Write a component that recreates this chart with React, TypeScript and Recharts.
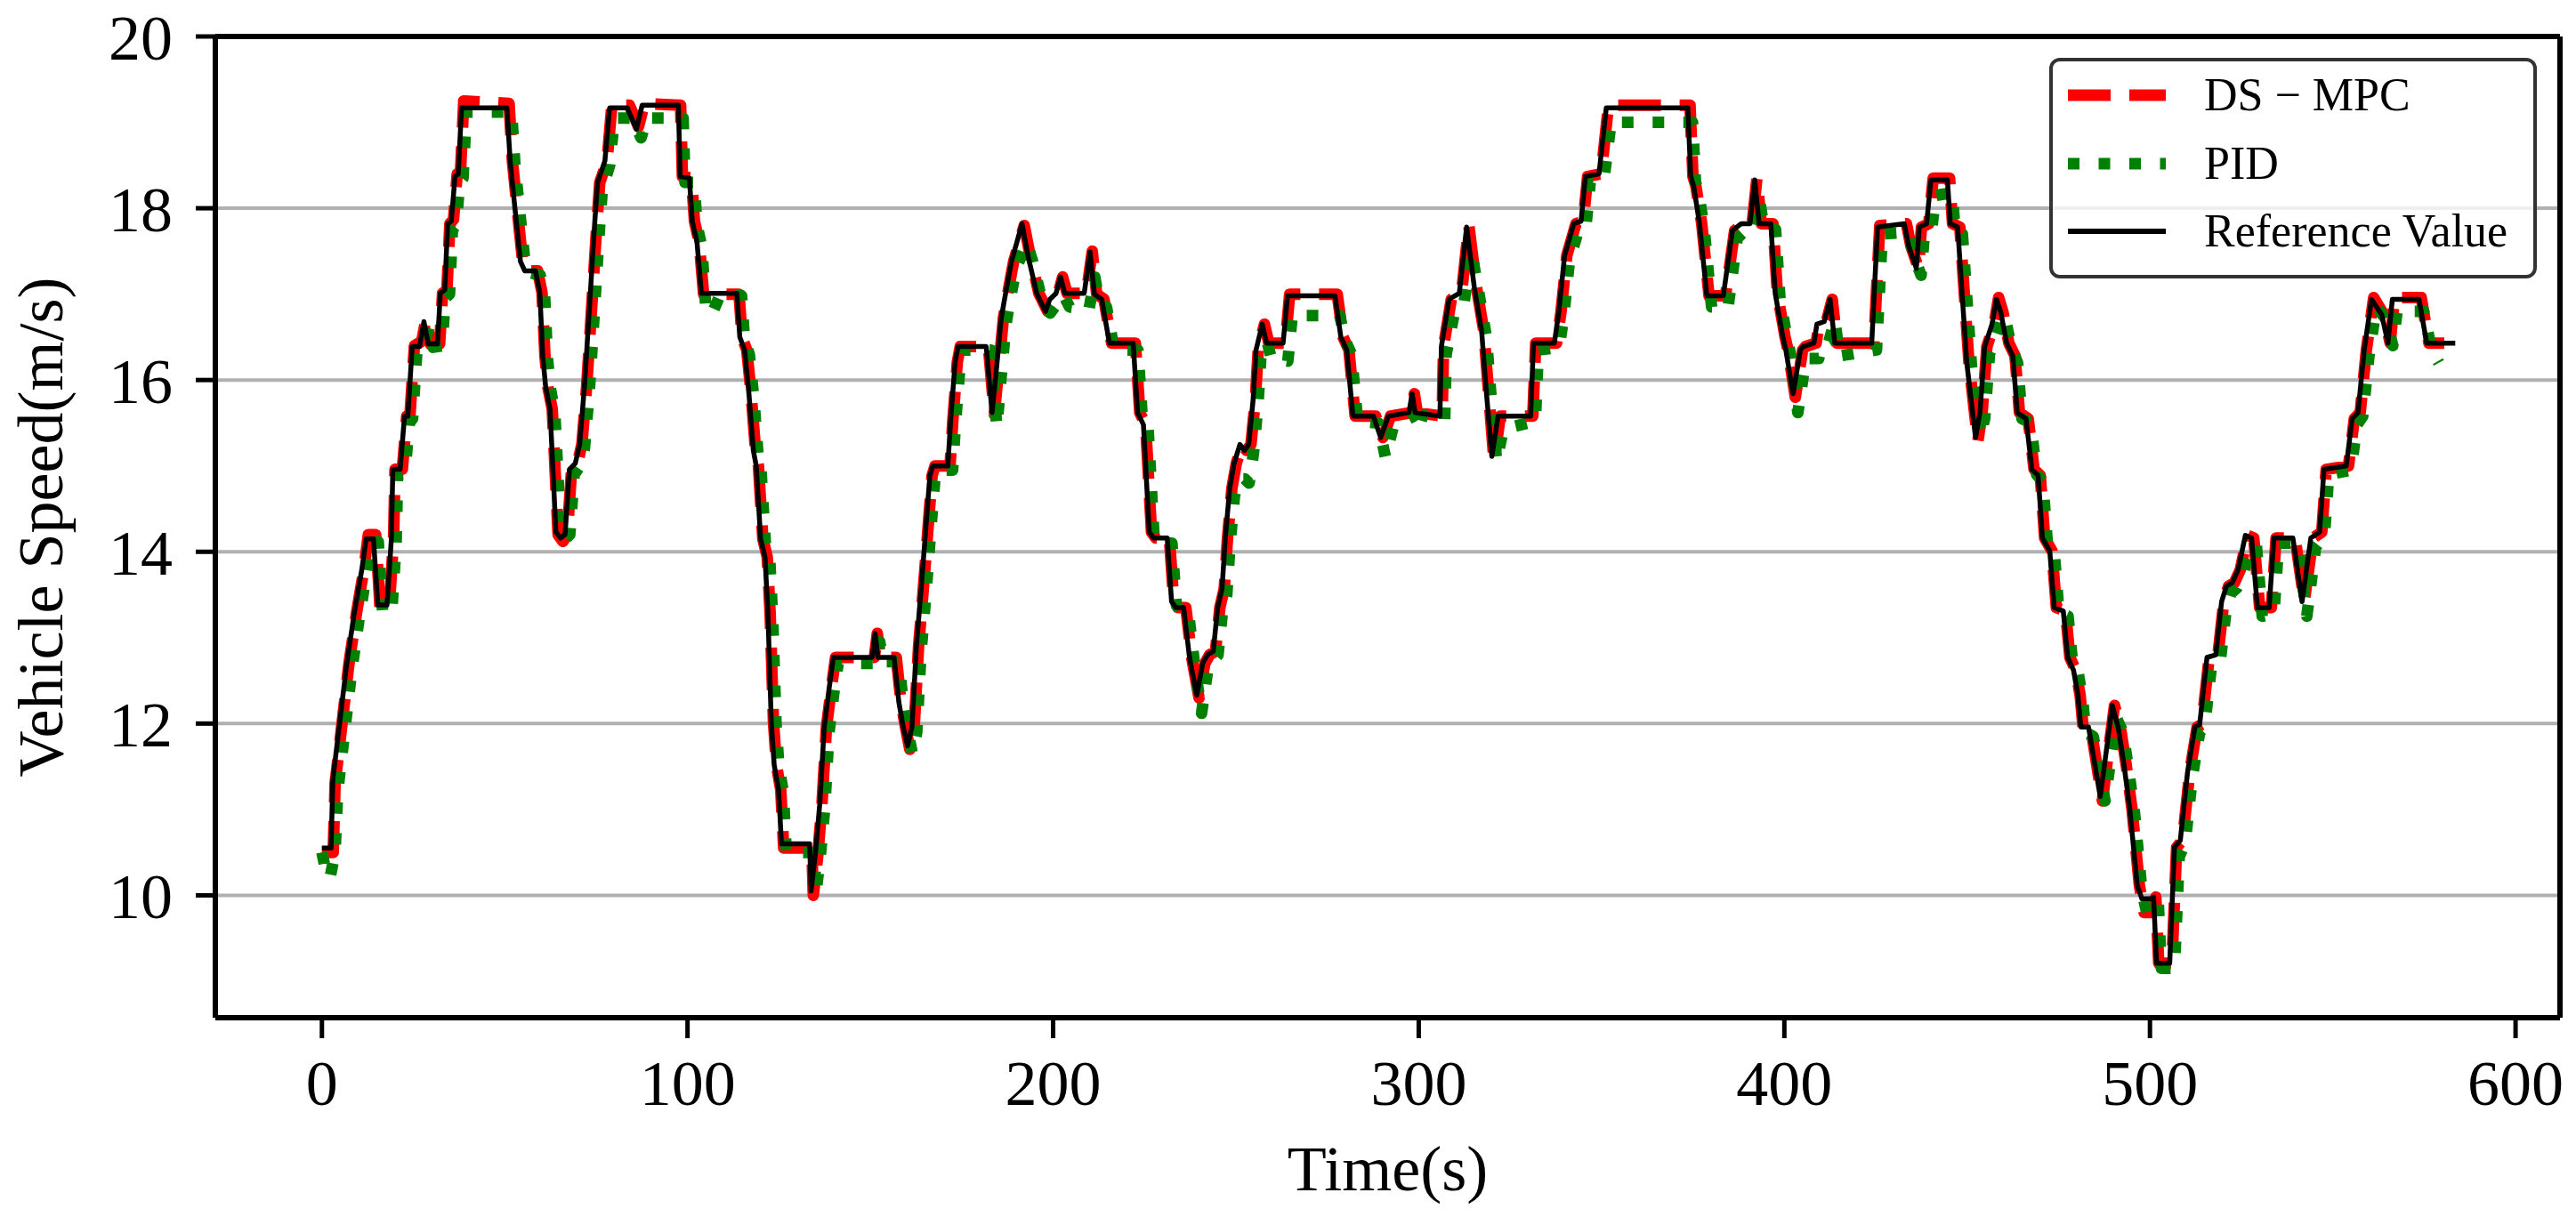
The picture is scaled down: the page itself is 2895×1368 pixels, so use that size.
import { LineChart, Line, XAxis, YAxis, CartesianGrid, Legend, ReferenceLine } from "recharts";

// Axis ticks
const X_TICKS = [0, 100, 200, 300, 400, 500, 600];
const Y_TICKS = [10, 12, 14, 16, 18, 20];

// Series as [time (s), speed (m/s)]
const REFERENCE: [number, number][] = [
  [0, 10.55], [2.5, 10.55], [3, 11.35], [6.8, 12.7], [8.8, 13.27], [10.9, 13.79], [12.1, 14.15], [14.1, 14.15],
  [15.3, 13.38], [17.8, 13.38], [19, 14.15], [19.4, 14.96], [21.4, 14.96], [22.6, 15.58], [23.5, 15.58], [24.7, 16.39],
  [26.7, 16.39], [27.9, 16.68], [29.1, 16.42], [31.6, 16.42], [32.4, 17.01], [33.6, 17.05], [34.4, 17.82], [35.4, 17.85],
  [36.4, 18.37], [37.3, 18.4], [38.2, 19.17], [50.6, 19.17], [51.5, 18.55], [52.7, 18.04], [54.3, 17.38], [55.5, 17.27],
  [58.4, 17.27], [59.6, 17.02], [60.4, 16.28], [61.2, 15.92], [62.4, 15.66], [64, 14.23], [65.3, 14.16], [66.5, 14.2],
  [67.7, 14.96], [69.3, 15.03], [70.5, 15.25], [71.8, 15.92], [73, 16.72], [74.6, 17.82], [75.4, 18.3], [77.4, 18.55],
  [78.7, 19.17], [83.5, 19.17], [86, 18.92], [87.6, 19.2], [97.5, 19.2], [98, 18.37], [100.5, 18.35], [101.3, 17.85],
  [102.6, 17.6], [103.8, 17.01], [113.5, 17.01], [114.3, 16.5], [115.6, 16.35], [116.8, 15.84], [118, 15.18], [118.8, 15.0],
  [120, 14.15], [121.2, 13.94], [122, 13.28], [122.9, 12.03], [123.7, 11.52], [124.9, 11.23], [125.7, 10.6], [133.4, 10.6],
  [133.8, 10.05], [135, 10.5], [136.2, 11.08], [137.4, 11.96], [138.7, 12.4], [139.9, 12.77], [150.5, 12.77], [151.3, 13.05],
  [152.1, 12.77], [156.5, 12.77], [157.8, 12.25], [159, 11.96], [160.2, 11.74], [161.4, 11.96], [162.6, 12.9], [163.9, 13.57],
  [165.1, 14.23], [166.3, 14.89], [167.1, 15.0], [171.2, 15.0], [172, 15.55], [173.2, 16.21], [174, 16.39], [181.7, 16.39],
  [183.3, 15.62], [184.5, 16.13], [185.8, 16.72], [187, 17.01], [188.6, 17.38], [191.5, 17.82], [193.1, 17.45], [195.5, 17.01],
  [197.9, 16.8], [199.1, 16.94], [200.8, 17.01], [202, 17.2], [203.2, 17.01], [208.5, 17.01], [210.1, 17.49], [211.3, 17.0],
  [213.3, 16.94], [215.4, 16.43], [221.9, 16.43], [223.1, 15.62], [224.7, 15.48], [226.3, 14.23], [227.5, 14.16], [231.2, 14.16],
  [232.4, 13.42], [233.6, 13.35], [235.7, 13.35], [237.3, 12.77], [239.3, 12.33], [240.9, 12.7], [242.2, 12.8], [243.8, 12.84],
  [245, 13.35], [246.2, 13.57], [247.1, 14.16], [248.3, 14.74], [249.5, 15.03], [251.1, 15.25], [252.3, 15.18], [253.5, 15.25],
  [254.7, 15.77], [255.5, 16.35], [257.2, 16.65], [258.4, 16.43], [262.9, 16.43], [264.1, 16.98], [277.1, 16.98], [278.7, 16.5],
  [280.3, 16.35], [282, 15.58], [287.6, 15.58], [289.6, 15.33], [291.7, 15.58], [297.3, 15.62], [298.2, 15.84], [299, 15.62],
  [305.8, 15.58], [306.2, 16.39], [308.3, 16.94], [311.1, 17.01], [313.1, 17.78], [315.2, 17.08], [317.2, 16.57], [318.4, 15.91],
  [320, 15.11], [321.7, 15.58], [330.6, 15.58], [331.4, 16.43], [337.1, 16.43], [338.3, 16.79], [339.9, 17.45], [342.4, 17.82],
  [344.4, 17.85], [345.6, 18.37], [349.3, 18.4], [351.3, 19.17], [373.6, 19.17], [374.4, 18.37], [375.2, 18.26], [376.8, 17.82],
  [378.8, 16.98], [383.3, 16.98], [385.8, 17.74], [388.2, 17.82], [390.6, 17.82], [391.9, 18.33], [393.1, 17.82], [396.3, 17.82],
  [397.5, 17.01], [399.6, 16.5], [400.4, 16.35], [402.4, 15.84], [404.4, 16.35], [405.2, 16.39], [408.1, 16.43], [408.9, 16.65],
  [410.9, 16.68], [412.5, 16.94], [413.8, 16.43], [423.9, 16.43], [425.5, 17.78], [432.8, 17.82], [434, 17.56], [436.1, 17.3],
  [436.9, 17.78], [438.9, 17.82], [440.1, 18.33], [444.6, 18.33], [445.4, 17.82], [447.4, 17.78], [449.9, 16.2], [452.3, 15.33],
  [453.5, 15.62], [454.8, 16.39], [456.8, 16.65], [458, 16.94], [459.2, 16.79], [460.8, 16.43], [462.5, 16.28], [463.7, 15.62],
  [466.1, 15.55], [467.7, 14.96], [469.4, 14.89], [470.6, 14.16], [472.6, 14.01], [473.8, 13.35], [476.3, 13.31], [477.5, 12.77],
  [479.1, 12.62], [480.3, 12.33], [481.1, 11.96], [483.2, 11.96], [486.4, 11.15], [488, 11.66], [489.7, 12.21], [491.3, 11.96],
  [492.9, 11.52], [494.5, 11.0], [496.5, 10.12], [497.8, 9.96], [500.2, 9.96], [501, 9.98], [501.8, 9.21], [505.4, 9.21],
  [506.7, 10.56], [508.3, 10.64], [510.3, 11.44], [512.3, 11.96], [513.6, 11.99], [515.6, 12.77], [518, 12.8], [519.6, 13.42],
  [520.9, 13.6], [522.5, 13.64], [524.1, 13.79], [526.1, 14.19], [527.8, 14.16], [529.4, 13.35], [532.6, 13.35], [533.9, 14.16],
  [539.1, 14.16], [541.6, 13.42], [544, 14.16], [546.4, 14.23], [547.6, 14.96], [553.7, 15.0], [555.3, 15.55], [556.9, 15.62],
  [558.6, 16.35], [560.6, 16.94], [563.4, 16.76], [565.1, 16.43], [566.3, 16.94], [573.6, 16.94], [575.7, 16.43], [583.5, 16.43],
];

const DS_MPC: [number, number][] = [
  [0, 10.5], [3.1, 10.5], [3.6, 11.3], [7.4, 12.7], [9.4, 13.27], [11.5, 13.8], [12.7, 14.2], [14.7, 14.2],
  [15.9, 13.35], [18.4, 13.35], [19.6, 14.15], [20, 14.96], [22, 14.96], [23.2, 15.58], [24.1, 15.6], [25.3, 16.4],
  [27.3, 16.45], [28.5, 16.72], [29.7, 16.42], [32.2, 16.42], [33, 17.01], [34.2, 17.05], [35, 17.82], [36, 17.87],
  [37, 18.4], [37.9, 18.42], [38.8, 19.25], [51.2, 19.22], [52.1, 18.55], [53.3, 18.04], [54.9, 17.38], [56.1, 17.27],
  [59, 17.27], [60.2, 17.02], [61, 16.28], [61.8, 15.92], [63, 15.66], [64.6, 14.2], [65.9, 14.12], [67.1, 14.2],
  [68.3, 14.96], [69.9, 15.03], [71.1, 15.25], [72.4, 15.92], [73.6, 16.72], [75.2, 17.82], [76, 18.3], [78, 18.55],
  [79.3, 19.2], [84.1, 19.2], [86.6, 18.95], [88.2, 19.22], [98.1, 19.2], [98.6, 18.37], [101.1, 18.35], [101.9, 17.85],
  [103.2, 17.6], [104.4, 17.0], [114.1, 17.0], [114.9, 16.5], [116.2, 16.35], [117.4, 15.84], [118.6, 15.18], [119.4, 15.0],
  [120.6, 14.15], [121.8, 13.94], [122.6, 13.28], [123.5, 12.03], [124.3, 11.52], [125.5, 11.23], [126.3, 10.55], [134, 10.55],
  [134.4, 10.0], [135.6, 10.45], [136.8, 11.08], [138, 11.96], [139.3, 12.4], [140.5, 12.77], [151.1, 12.77], [151.9, 13.05],
  [152.7, 12.77], [157.1, 12.77], [158.4, 12.25], [159.6, 11.96], [160.8, 11.7], [162, 11.96], [163.2, 12.9], [164.5, 13.57],
  [165.7, 14.23], [166.9, 14.89], [167.7, 15.0], [171.8, 15.0], [172.6, 15.55], [173.8, 16.21], [174.6, 16.39], [182.3, 16.39],
  [183.9, 15.6], [185.1, 16.13], [186.4, 16.72], [187.6, 17.01], [189.2, 17.38], [192.1, 17.8], [193.7, 17.45], [196.1, 17.01],
  [198.5, 16.8], [199.7, 16.94], [201.4, 17.01], [202.6, 17.2], [203.8, 17.01], [209.1, 17.01], [210.7, 17.5], [211.9, 17.0],
  [213.9, 16.94], [216, 16.43], [222.5, 16.43], [223.7, 15.62], [225.3, 15.48], [226.9, 14.23], [228.1, 14.16], [231.8, 14.16],
  [233, 13.42], [234.2, 13.35], [236.3, 13.35], [237.9, 12.77], [239.9, 12.3], [241.5, 12.7], [242.8, 12.8], [244.4, 12.84],
  [245.6, 13.35], [246.8, 13.57], [247.7, 14.16], [248.9, 14.74], [250.1, 15.03], [251.7, 15.25], [252.9, 15.18], [254.1, 15.25],
  [255.3, 15.77], [256.1, 16.35], [257.8, 16.65], [259, 16.43], [263.5, 16.43], [264.7, 17.0], [277.7, 17.0], [279.3, 16.5],
  [280.9, 16.35], [282.6, 15.58], [288.2, 15.58], [290.2, 15.33], [292.3, 15.58], [297.9, 15.62], [298.8, 15.84], [299.6, 15.62],
  [306.4, 15.58], [306.8, 16.39], [308.9, 16.94], [311.7, 17.01], [313.7, 17.8], [315.8, 17.08], [317.8, 16.57], [319, 15.91],
  [320.6, 15.05], [322.3, 15.58], [331.2, 15.58], [332, 16.43], [337.7, 16.43], [338.9, 16.79], [340.5, 17.45], [343, 17.82],
  [345, 17.85], [346.2, 18.37], [349.9, 18.4], [351.9, 19.2], [374.2, 19.2], [375, 18.37], [375.8, 18.26], [377.4, 17.82],
  [379.4, 16.98], [383.9, 16.98], [386.4, 17.74], [388.8, 17.82], [391.2, 17.82], [392.5, 18.35], [393.7, 17.82], [396.9, 17.82],
  [398.1, 17.01], [400.2, 16.5], [401, 16.35], [403, 15.8], [405, 16.35], [405.8, 16.39], [408.7, 16.43], [409.5, 16.65],
  [411.5, 16.68], [413.1, 16.94], [414.4, 16.43], [424.5, 16.43], [426.1, 17.8], [433.4, 17.82], [434.6, 17.56], [436.7, 17.3],
  [437.5, 17.78], [439.5, 17.82], [440.7, 18.35], [445.2, 18.35], [446, 17.82], [448, 17.78], [450.5, 16.2], [452.9, 15.28],
  [454.1, 15.62], [455.4, 16.39], [457.4, 16.65], [458.6, 16.96], [459.8, 16.79], [461.4, 16.43], [463.1, 16.28], [464.3, 15.62],
  [466.7, 15.55], [468.3, 14.96], [470, 14.89], [471.2, 14.16], [473.2, 14.01], [474.4, 13.35], [476.9, 13.31], [478.1, 12.77],
  [479.7, 12.62], [480.9, 12.33], [481.7, 11.96], [483.8, 11.96], [487, 11.1], [488.6, 11.66], [490.3, 12.21], [491.9, 11.96],
  [493.5, 11.52], [495.1, 11.0], [497.1, 10.12], [498.4, 9.8], [500.8, 9.8], [501.6, 9.98], [502.4, 9.21], [506, 9.21],
  [507.3, 10.56], [508.9, 10.64], [510.9, 11.44], [512.9, 11.96], [514.2, 11.99], [516.2, 12.77], [518.6, 12.8], [520.2, 13.42],
  [521.5, 13.6], [523.1, 13.64], [524.7, 13.79], [526.7, 14.19], [528.4, 14.16], [530, 13.35], [533.2, 13.35], [534.5, 14.16],
  [539.7, 14.16], [542.2, 13.42], [544.6, 14.16], [547, 14.23], [548.2, 14.96], [554.3, 15.0], [555.9, 15.55], [557.5, 15.62],
  [559.2, 16.35], [561.2, 16.96], [564, 16.76], [565.7, 16.43], [566.9, 16.96], [574.2, 16.96], [576.3, 16.43], [580.5, 16.43],
];

const PID: [number, number][] = [
  [0, 10.5], [1, 10.3], [2.2, 10.2], [3.6, 10.5], [4.3, 11.2], [8.1, 12.6], [10.1, 13.2], [12.2, 13.75],
  [13.4, 14.1], [15.4, 14.12], [16.6, 13.3], [19.1, 13.3], [20.3, 14.1], [20.7, 14.9], [22.7, 14.92], [23.9, 15.5],
  [24.8, 15.55], [26, 16.35], [28, 16.4], [29.2, 16.62], [30.4, 16.38], [32.9, 16.4], [33.7, 16.95], [34.9, 17.0],
  [35.7, 17.75], [36.7, 17.8], [37.7, 18.3], [38.6, 18.35], [39.5, 19.12], [51.9, 19.12], [52.8, 18.5], [54, 18.0],
  [55.6, 17.35], [56.8, 17.25], [59.7, 17.22], [60.9, 17.0], [61.7, 16.25], [62.5, 15.9], [63.7, 15.62], [65.3, 14.25],
  [66.6, 14.15], [67.8, 14.2], [69, 14.9], [70.6, 15.0], [71.8, 15.2], [73.1, 15.85], [74.3, 16.65], [75.9, 17.75],
  [76.7, 18.22], [78.7, 18.5], [80, 19.05], [84.8, 19.05], [87.3, 18.82], [88.9, 19.05], [98.8, 19.05], [99.3, 18.3],
  [101.8, 18.3], [102.6, 17.8], [103.9, 17.55], [105.1, 16.78], [107, 16.8], [109, 17.0], [114.8, 16.98], [115.6, 16.45],
  [116.9, 16.3], [118.1, 15.8], [119.3, 15.12], [120.1, 14.95], [121.3, 14.1], [122.5, 13.9], [123.3, 13.22], [124.2, 12.0],
  [125, 11.5], [126.2, 11.2], [127, 10.5], [134.7, 10.5], [135.1, 10.02], [136.3, 10.45], [137.5, 11.0], [138.7, 11.9],
  [140, 12.35], [141.2, 12.7], [151.8, 12.7], [152.6, 12.95], [153.4, 12.72], [157.8, 12.72], [159.1, 12.2], [160.3, 11.9],
  [161.5, 11.65], [162.7, 11.9], [163.9, 12.85], [165.2, 13.5], [166.4, 14.18], [167.6, 14.82], [168.4, 14.95], [172.5, 14.95],
  [173.3, 15.5], [174.5, 16.15], [175.3, 16.35], [183, 16.35], [184.6, 15.45], [185.8, 16.05], [187.1, 16.65], [188.3, 16.95],
  [189.9, 17.3], [192.8, 17.6], [194.4, 17.38], [196.8, 16.95], [199.2, 16.78], [200.4, 16.85], [202.1, 16.82], [203.3, 16.95],
  [204.5, 16.85], [209.8, 16.82], [211.4, 17.2], [212.6, 16.9], [214.6, 16.85], [216.7, 16.35], [223.2, 16.35], [224.4, 15.55],
  [226, 15.42], [227.6, 14.18], [228.8, 14.1], [232.5, 14.1], [233.7, 13.38], [234.9, 13.3], [237, 13.3], [238.6, 12.72],
  [240.6, 12.12], [242.2, 12.6], [243.5, 12.72], [245.1, 12.8], [246.3, 13.3], [247.5, 13.5], [248.4, 14.1], [249.6, 14.65],
  [250.8, 14.85], [252.4, 14.85], [253.6, 14.8], [254.8, 15.15], [256, 15.7], [256.8, 16.25], [258.5, 16.45], [259.7, 16.25],
  [264.2, 16.22], [265.4, 16.75], [278.4, 16.75], [280, 16.45], [281.6, 16.3], [283.3, 15.52], [288.9, 15.5], [290.9, 15.1],
  [293, 15.45], [298.6, 15.58], [299.5, 15.75], [300.3, 15.6], [307.1, 15.52], [307.5, 16.3], [309.6, 16.75], [312.4, 16.9],
  [314.4, 17.5], [316.5, 17.0], [318.5, 16.5], [319.7, 15.85], [321.3, 15.05], [323, 15.4], [325, 15.45], [331.9, 15.52],
  [332.7, 16.35], [338.4, 16.38], [339.6, 16.72], [341.2, 17.38], [343.7, 17.75], [345.7, 17.78], [346.9, 18.3], [350.6, 18.32],
  [352.6, 19.0], [374.9, 19.0], [375.7, 18.3], [376.5, 18.2], [378.1, 17.75], [380.1, 16.85], [384.6, 16.85], [387.1, 17.65],
  [389.5, 17.75], [391.9, 17.75], [393.2, 18.1], [394.4, 17.78], [397.6, 17.75], [398.8, 16.95], [400.9, 16.45], [401.7, 16.3],
  [403.7, 15.62], [405.7, 16.2], [406.5, 16.25], [409.4, 16.25], [410.2, 16.4], [412.2, 16.45], [413.8, 16.7], [415.1, 16.28],
  [425.2, 16.35], [426.8, 17.7], [434.1, 17.72], [435.3, 17.45], [437.4, 17.22], [438.2, 17.65], [440.2, 17.72], [441.4, 18.15],
  [445.9, 18.18], [446.7, 17.75], [448.7, 17.7], [451.2, 16.15], [453.6, 15.35], [454.8, 15.55], [456.1, 16.3], [458.1, 16.55],
  [459.3, 16.75], [460.5, 16.7], [462.1, 16.38], [463.8, 16.2], [465, 15.55], [467.4, 15.5], [469, 14.9], [470.7, 14.82],
  [471.9, 14.12], [473.9, 13.95], [475.1, 13.3], [477.6, 13.25], [478.8, 12.72], [480.4, 12.58], [481.6, 12.28], [482.4, 11.9],
  [484.5, 11.85], [487.7, 11.1], [489.3, 11.6], [491, 12.05], [492.6, 11.9], [494.2, 11.45], [495.8, 10.95], [497.8, 10.05],
  [499.1, 9.8], [501.5, 9.8], [502.3, 9.9], [503.1, 9.15], [506.7, 9.15], [508, 10.45], [509.6, 10.6], [511.6, 11.38],
  [513.6, 11.9], [514.9, 11.95], [516.9, 12.7], [519.3, 12.75], [520.9, 13.35], [522.2, 13.52], [523.8, 13.58], [525.4, 13.72],
  [527.4, 14.05], [529.1, 14.08], [530.7, 13.25], [533.9, 13.28], [535.2, 14.1], [540.4, 14.1], [542.9, 13.25], [545.3, 14.05],
  [547.7, 14.18], [548.9, 14.9], [555, 14.95], [556.6, 15.48], [558.2, 15.58], [559.9, 16.28], [561.9, 16.85], [564.7, 16.7],
  [566.4, 16.4], [567.6, 16.8], [574.9, 16.8], [577, 16.35], [579, 16.2],
];

const X_DOMAIN: [number, number] = [-29.15, 612.15];
const Y_DOMAIN: [number, number] = [8.575, 20];

const SERIF = '"Liberation Serif", "Times New Roman", serif';

const toRows = (pts: [number, number][]) => pts.map(([t, v]) => ({ t, v }));

const LEGEND_ROWS = [
  { name: "DS \u2212 MPC", color: "#ff0000", dash: "48 21", width: 13 },
  { name: "PID", color: "#008000", dash: "13 21.5", width: 13 },
  { name: "Reference Value", color: "#000000", dash: undefined, width: 6 },
];

function LegendBox() {
  return (
    <div
      style={{
        width: 548,
        height: 248,
        boxSizing: "border-box",
        border: "4px solid #333",
        borderRadius: 12,
        background: "rgba(255,255,255,0.8)",
        position: "relative",
        fontFamily: SERIF,
        fontSize: 52,
        color: "#000",
      }}
    >
      {LEGEND_ROWS.map((r, i) => (
        <div
          key={r.name}
          style={{
            position: "absolute",
            left: 17,
            top: 38 + i * 76.5 - 32,
            height: 64,
            display: "flex",
            alignItems: "center",
            whiteSpace: "nowrap",
          }}
        >
          <svg width={110} height={20} style={{ display: "block" }}>
            <line
              x1={0}
              x2={110}
              y1={10}
              y2={10}
              stroke={r.color}
              strokeWidth={r.width}
              strokeDasharray={r.dash}
            />
          </svg>
          <span style={{ marginLeft: 43, lineHeight: "64px" }}>{r.name}</span>
        </div>
      ))}
    </div>
  );
}

function XTitle(props: any) {
  const vb = props.viewBox;
  return (
    <text x={vb.x + vb.width / 2} y={vb.y + 194} textAnchor="middle" fontFamily={SERIF} fontSize={72} fill="#000">
      Time(s)
    </text>
  );
}

function YTitle(props: any) {
  const vb = props.viewBox;
  const x = vb.x + 70;
  const y = vb.y + vb.height / 2;
  return (
    <text x={x} y={y} transform={`rotate(-90, ${x}, ${y})`} textAnchor="middle" fontFamily={SERIF} fontSize={72} fill="#000">
      Vehicle Speed(m/s)
    </text>
  );
}

const tickStyle = { fontSize: 72, fill: "#000", fontFamily: SERIF };
const spine = { stroke: "#000", strokeWidth: 6 };

export default function App() {
  return (
    <div style={{ position: "absolute", left: 0, top: 0, width: 2895, height: 1368, background: "#fff" }}>
      <LineChart width={2895} height={1368} margin={{ top: 41, right: 18, bottom: 0, left: 0 }}>
        <CartesianGrid vertical={false} stroke="#b0b0b0" strokeWidth={4} />
        <XAxis
          dataKey="t"
          type="number"
          domain={X_DOMAIN}
          ticks={X_TICKS}
          allowDataOverflow
          height={224}
          tickSize={23}
          tickMargin={24}
          axisLine={spine}
          tickLine={{ stroke: "#000", strokeWidth: 5 }}
          tick={tickStyle}
          label={{ content: XTitle }}
        />
        <YAxis
          type="number"
          domain={Y_DOMAIN}
          ticks={Y_TICKS}
          allowDataOverflow
          width={242}
          tickSize={22}
          tickMargin={26}
          axisLine={spine}
          tickLine={{ stroke: "#000", strokeWidth: 5 }}
          tick={tickStyle}
          label={{ content: YTitle }}
        />
        <Line
          data={toRows(DS_MPC)}
          dataKey="v"
          name="DS − MPC"
          type="linear"
          stroke="#ff0000"
          strokeWidth={13}
          strokeDasharray="48 21"
          strokeLinejoin="round"
          dot={false}
          activeDot={false}
          isAnimationActive={false}
        />
        <Line
          data={toRows(PID)}
          dataKey="v"
          name="PID"
          type="linear"
          stroke="#008000"
          strokeWidth={13}
          strokeDasharray="13 21.5"
          strokeLinejoin="round"
          dot={false}
          activeDot={false}
          isAnimationActive={false}
        />
        <Line
          data={toRows(REFERENCE)}
          dataKey="v"
          name="Reference Value"
          type="linear"
          stroke="#000000"
          strokeWidth={5.5}
          strokeLinejoin="round"
          dot={false}
          activeDot={false}
          isAnimationActive={false}
        />
        {/* top and right spines of the axes box */}
        <ReferenceLine y={Y_DOMAIN[1]} stroke="#000" strokeWidth={6} />
        <ReferenceLine x={X_DOMAIN[1]} stroke="#000" strokeWidth={6} />
        <Legend
          layout="horizontal"
          align="center"
          verticalAlign="middle"
          content={() => <LegendBox />}
          wrapperStyle={{ left: 2303, top: 65, width: 548, height: 248 }}
        />
      </LineChart>
    </div>
  );
}
